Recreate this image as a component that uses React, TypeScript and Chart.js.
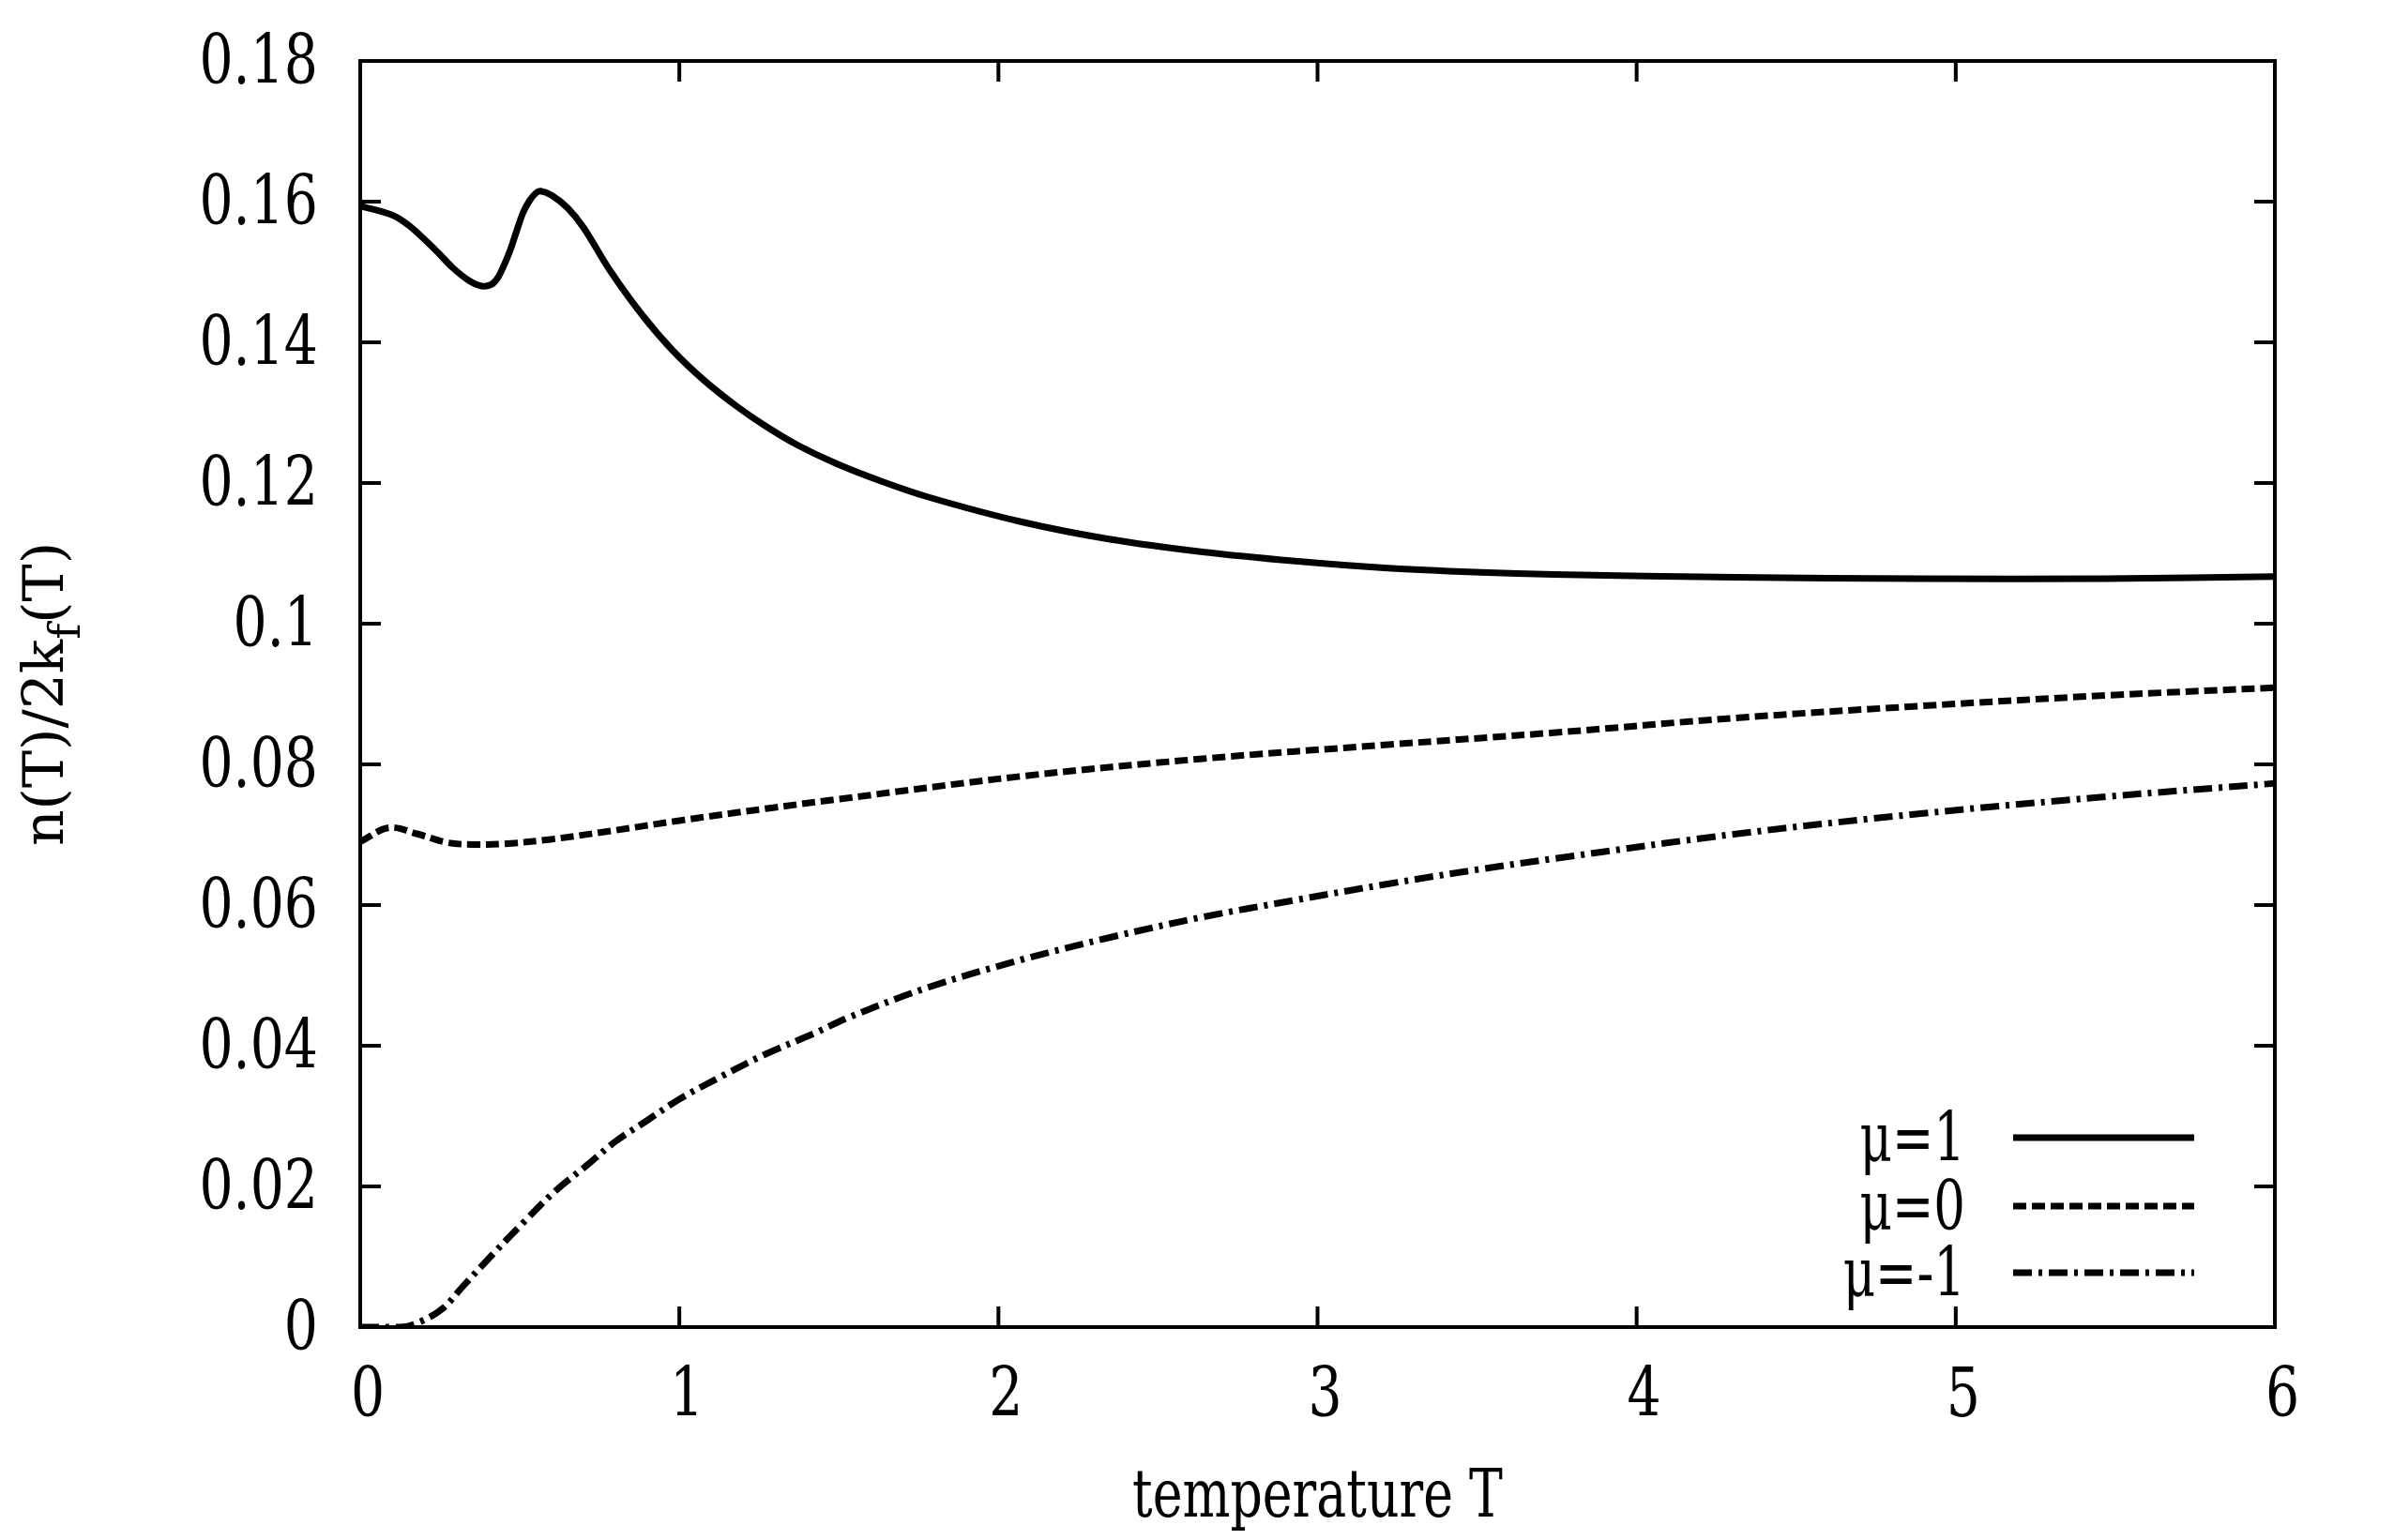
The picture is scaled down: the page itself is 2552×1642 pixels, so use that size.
import React, { useEffect, useRef } from "react";
import { Chart, registerables } from "chart.js";

Chart.register(...registerables);

// temperature samples and n(T)/2k_f(T)
const tempMuPlus = [0, 0.1, 0.15, 0.2, 0.245, 0.29, 0.34, 0.38, 0.41, 0.43, 0.45, 0.47, 0.49, 0.51, 0.53, 0.55, 0.565, 0.6, 0.65, 0.7, 0.78, 0.88, 0.98, 1.08, 1.18, 1.27, 1.37, 1.49, 1.63, 1.78, 2.07, 2.35, 2.64, 2.93, 3.22, 3.51, 3.74, 4.31, 4.89, 5.47, 6.0];
const densMuPlus = [0.1594, 0.1581, 0.1567, 0.1547, 0.1527, 0.1506, 0.1488, 0.148, 0.1482, 0.1491, 0.1509, 0.1531, 0.1558, 0.1584, 0.1601, 0.1612, 0.1615, 0.1609, 0.1591, 0.1563, 0.1504, 0.1441, 0.1388, 0.1345, 0.1309, 0.1281, 0.1254, 0.1228, 0.1203, 0.118, 0.1145, 0.112, 0.1102, 0.1089, 0.1079, 0.1073, 0.107, 0.1066, 0.1064, 0.1064, 0.1067];

const tempMuZero = [0, 0.09, 0.18, 0.27, 0.35, 0.45, 0.59, 0.78, 1.0, 1.27, 1.49, 2.07, 2.64, 3.22, 3.74, 4.31, 4.89, 5.47, 6.0];
const densMuZero = [0.069, 0.071, 0.0701, 0.0689, 0.0686, 0.0687, 0.0693, 0.0705, 0.072, 0.0737, 0.075, 0.0783, 0.0808, 0.0828, 0.0845, 0.0866, 0.0883, 0.0898, 0.0909];

const tempMuMinus = [0, 0.13, 0.19, 0.26, 0.32, 0.41, 0.51, 0.61, 0.71, 0.8, 0.9, 1.0, 1.13, 1.27, 1.42, 1.53, 1.78, 2.07, 2.35, 2.64, 2.93, 3.22, 3.51, 3.74, 4.31, 4.89, 5.47, 6.0];
const densMuMinus = [0, 0, 0.0008, 0.0027, 0.0057, 0.0101, 0.0148, 0.0193, 0.023, 0.0264, 0.0294, 0.0324, 0.0356, 0.0388, 0.0417, 0.044, 0.0483, 0.0522, 0.0554, 0.0583, 0.0607, 0.063, 0.0651, 0.0666, 0.0701, 0.073, 0.0754, 0.0773];

const seriesLabels = ["μ=1", "μ=0", "μ=-1"];
const xTickValues = [0, 1, 2, 3, 4, 5, 6];
const xTickLabels = ["0", "1", "2", "3", "4", "5", "6"];
const yTickValues = [0, 0.02, 0.04, 0.06, 0.08, 0.1, 0.12, 0.14, 0.16, 0.18];
const yTickLabels = ["0", "0.02", "0.04", "0.06", "0.08", "0.1", "0.12", "0.14", "0.16", "0.18"];

const SERIF = '"DejaVu Serif", serif';

const toPoints = (xs: number[], ys: number[]) => xs.map((x, i) => ({ x, y: ys[i] }));

// width of the ink of a string in the current font
const inkWidth = (ctx: CanvasRenderingContext2D, text: string) => {
  const m = ctx.measureText(text);
  return m.actualBoundingBoxLeft + m.actualBoundingBoxRight;
};

const squeezedText = (ctx: CanvasRenderingContext2D, text: string, x: number, y: number, sx: number, align: CanvasTextAlign) => {
  ctx.save();
  ctx.translate(x, y);
  ctx.scale(sx, 1);
  ctx.textAlign = align;
  ctx.textBaseline = "alphabetic";
  ctx.fillText(text, 0, 0);
  ctx.restore();
};

const gnuplotFrame = {
  id: "gnuplotFrame",
  afterDatasetsDraw(chart: any) {
    const { ctx, chartArea, scales } = chart;
    const { left, right, top, bottom } = chartArea;
    const xs = scales.x;
    const ys = scales.y;
    const tick = 22;

    ctx.save();
    ctx.strokeStyle = "#000";
    ctx.fillStyle = "#000";
    ctx.lineWidth = 4;
    ctx.lineCap = "butt";

    // inward ticks on all four sides
    ctx.beginPath();
    yTickValues.forEach((v) => {
      const py = ys.getPixelForValue(v);
      ctx.moveTo(left, py);
      ctx.lineTo(left + tick, py);
      ctx.moveTo(right, py);
      ctx.lineTo(right - tick, py);
    });
    xTickValues.forEach((v) => {
      const px = xs.getPixelForValue(v);
      ctx.moveTo(px, bottom);
      ctx.lineTo(px, bottom - tick);
      ctx.moveTo(px, top);
      ctx.lineTo(px, top + tick);
    });
    ctx.stroke();
    ctx.strokeRect(left, top, right - left, bottom - top);

    // tick labels
    ctx.font = `73px ${SERIF}`;
    const tickSx = 120 / inkWidth(ctx, "0.18");
    yTickValues.forEach((v, i) => {
      squeezedText(ctx, yTickLabels[i], left - 45, ys.getPixelForValue(v) + 24, tickSx, "right");
    });
    xTickValues.forEach((v, i) => {
      squeezedText(ctx, xTickLabels[i], xs.getPixelForValue(v) + 8, bottom + 95, tickSx, "center");
    });

    // x axis title
    ctx.font = `71px ${SERIF}`;
    const xTitle = "temperature T";
    const titleSx = 393 / inkWidth(ctx, xTitle);
    squeezedText(ctx, xTitle, (left + right) / 2, bottom + 202, titleSx, "center");

    // y axis title, rotated, with subscript f
    const yMain = 60;
    const ySub = 46;
    ctx.font = `${yMain}px ${SERIF}`;
    const partA = "n(T)/2k";
    const partC = "(T)";
    const wA = ctx.measureText(partA).width;
    const wC = ctx.measureText(partC).width;
    ctx.font = `${ySub}px ${SERIF}`;
    const wB = ctx.measureText("f").width;
    const total = wA + wB + wC;
    ctx.save();
    ctx.translate(67, (top + bottom) / 2);
    ctx.rotate(-Math.PI / 2);
    ctx.textAlign = "left";
    ctx.textBaseline = "alphabetic";
    let cx = -total / 2;
    ctx.font = `${yMain}px ${SERIF}`;
    ctx.fillText(partA, cx, 0);
    cx += wA;
    ctx.font = `${ySub}px ${SERIF}`;
    ctx.fillText("f", cx, 18);
    cx += wB;
    ctx.font = `${yMain}px ${SERIF}`;
    ctx.fillText(partC, cx, 0);
    ctx.restore();

    // legend, bottom right inside the frame
    ctx.font = `73px ${SERIF}`;
    const legendSx = 122 / inkWidth(ctx, "μ=-1");
    const rowY = [bottom - 202, bottom - 129, bottom - 58];
    chart.data.datasets.forEach((ds: any, i: number) => {
      const y = rowY[i];
      squeezedText(ctx, ds.label, right - 330, y + 25, legendSx, "right");
      ctx.save();
      ctx.lineWidth = ds.borderWidth;
      ctx.setLineDash(ds.borderDash || []);
      ctx.beginPath();
      ctx.moveTo(right - 279, y);
      ctx.lineTo(right - 86, y);
      ctx.stroke();
      ctx.restore();
    });

    ctx.restore();
  },
};

const App = () => {
  const canvasRef = useRef<HTMLCanvasElement>(null);
  const chartRef = useRef<any>(null);

  useEffect(() => {
    document.body.style.margin = "0";
    if (chartRef.current) {
      chartRef.current.destroy();
    }
    const ctx = canvasRef.current!.getContext("2d")!;
    const line = (label: string, xs: number[], ys: number[], dash: number[]) => ({
      label,
      data: toPoints(xs, ys),
      showLine: true,
      borderColor: "#000",
      backgroundColor: "#000",
      borderWidth: 7,
      borderDash: dash,
      borderCapStyle: "butt",
      borderJoinStyle: "round",
      pointRadius: 0,
      tension: 0.35,
      fill: false,
    });

    chartRef.current = new Chart(ctx, {
      type: "scatter",
      data: {
        datasets: [
          line(seriesLabels[0], tempMuPlus, densMuPlus, []),
          line(seriesLabels[1], tempMuZero, densMuZero, [14, 6]),
          line(seriesLabels[2], tempMuMinus, densMuMinus, [20, 7, 4, 7]),
        ],
      },
      options: {
        responsive: true,
        maintainAspectRatio: false,
        animation: false,
        layout: { padding: { left: 384, top: 65, right: 127, bottom: 227 } },
        scales: {
          x: { type: "linear", min: 0, max: 6, display: false },
          y: { type: "linear", min: 0, max: 0.18, display: false },
        },
        plugins: {
          legend: { display: false },
          tooltip: { enabled: false },
        },
      },
      plugins: [gnuplotFrame],
    } as any);

    return () => {
      if (chartRef.current) {
        chartRef.current.destroy();
        chartRef.current = null;
      }
    };
  }, []);

  return (
    <div style={{ position: "fixed", left: 0, top: 0, width: "100vw", height: "100vh", background: "#fff" }}>
      <canvas ref={canvasRef} />
    </div>
  );
};

export default App;
